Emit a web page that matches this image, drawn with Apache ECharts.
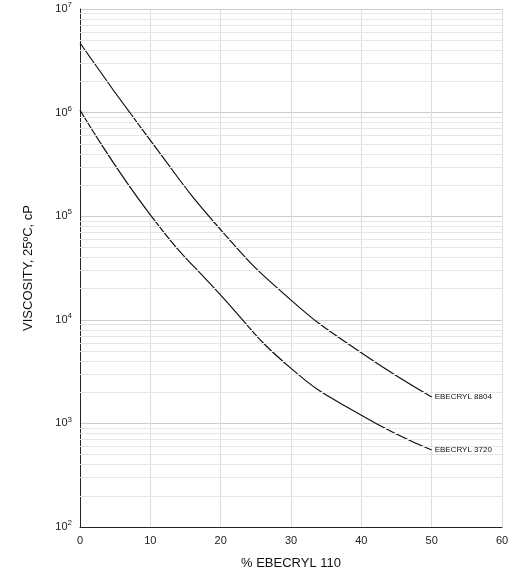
<!DOCTYPE html>
<html><head><meta charset="utf-8">
<script src="https://cdn.jsdelivr.net/npm/echarts@6/dist/echarts.min.js"></script>
<style>html,body{margin:0;padding:0;background:#fff}#main{width:522px;height:578px}</style>
</head><body><div id="main"></div>
<script>
var pct = [0, 10, 20, 30, 40, 50];
var ebecryl8804 = [4.7e6, 5.4e5, 7.4e4, 1.55e4, 4.8e3, 1.8e3];
var ebecryl3720 = [1.06e6, 1.03e5, 1.73e4, 3.4e3, 1.2e3, 553];
var exps = [2, 3, 4, 5, 6, 7];

var minorLines = [];
for (var d = 2; d < 7; d++) {
    for (var m = 2; m <= 9; m++) minorLines.push({ yAxis: m * Math.pow(10, d) });
}

var chartDom = document.getElementById('main');
var myChart = echarts.init(chartDom);
var option;

function pairs(arr) { return pct.map(function (x, i) { return [x, arr[i]]; }); }

option = {
    animation: false,
    textStyle: { fontFamily: 'Liberation Sans' },
    grid: { left: 80, right: 20, top: 9, bottom: 51 },
    xAxis: {
        type: 'value', min: 0, max: 60, interval: 10,
        name: '% EBECRYL 110', nameLocation: 'middle', nameGap: 30,
        nameTextStyle: { fontSize: 13, color: '#111' },
        axisLine: { lineStyle: { color: '#222' } },
        axisTick: { show: false },
        axisLabel: { color: '#222', fontSize: 11 },
        splitLine: { lineStyle: { color: '#ddd' } }
    },
    yAxis: {
        type: 'log', min: 100, max: 1e7, logBase: 10,
        name: 'VISCOSITY, 25ºC, cP', nameLocation: 'middle', nameGap: 45,
        nameTextStyle: { fontSize: 13, color: '#111' },
        axisLine: { show: true, lineStyle: { color: '#222' } },
        axisTick: { show: false },
        axisLabel: {
            formatter: function (v) {
                var e = Math.round(Math.log10(v));
                return exps.indexOf(e) >= 0 ? '10{s|' + e + '}' : '';
            },
            color: '#222', fontSize: 11,
            rich: { s: { fontSize: 8, verticalAlign: 'top', padding: [0, 0, 8, 0], color: '#222' } }
        },
        splitLine: { lineStyle: { color: '#ccc' } }
    },
    series: [
        {
            type: 'line', data: [], silent: true,
            markLine: {
                symbol: 'none', silent: true, label: { show: false },
                lineStyle: { color: '#e6e6e6', type: 'solid', width: 1 },
                data: minorLines
            }
        },
        {
            name: 'EBECRYL 8804', type: 'line', smooth: 0.5, showSymbol: false,
            data: pairs(ebecryl8804), lineStyle: { color: '#111', width: 1.2 },
            endLabel: { show: true, formatter: 'EBECRYL 8804', fontSize: 8, color: '#111', distance: 3 }
        },
        {
            name: 'EBECRYL 3720', type: 'line', smooth: 0.5, showSymbol: false,
            data: pairs(ebecryl3720), lineStyle: { color: '#111', width: 1.2 },
            endLabel: { show: true, formatter: 'EBECRYL 3720', fontSize: 8, color: '#111', distance: 3 }
        }
    ]
};

option && myChart.setOption(option);
</script></body></html>
